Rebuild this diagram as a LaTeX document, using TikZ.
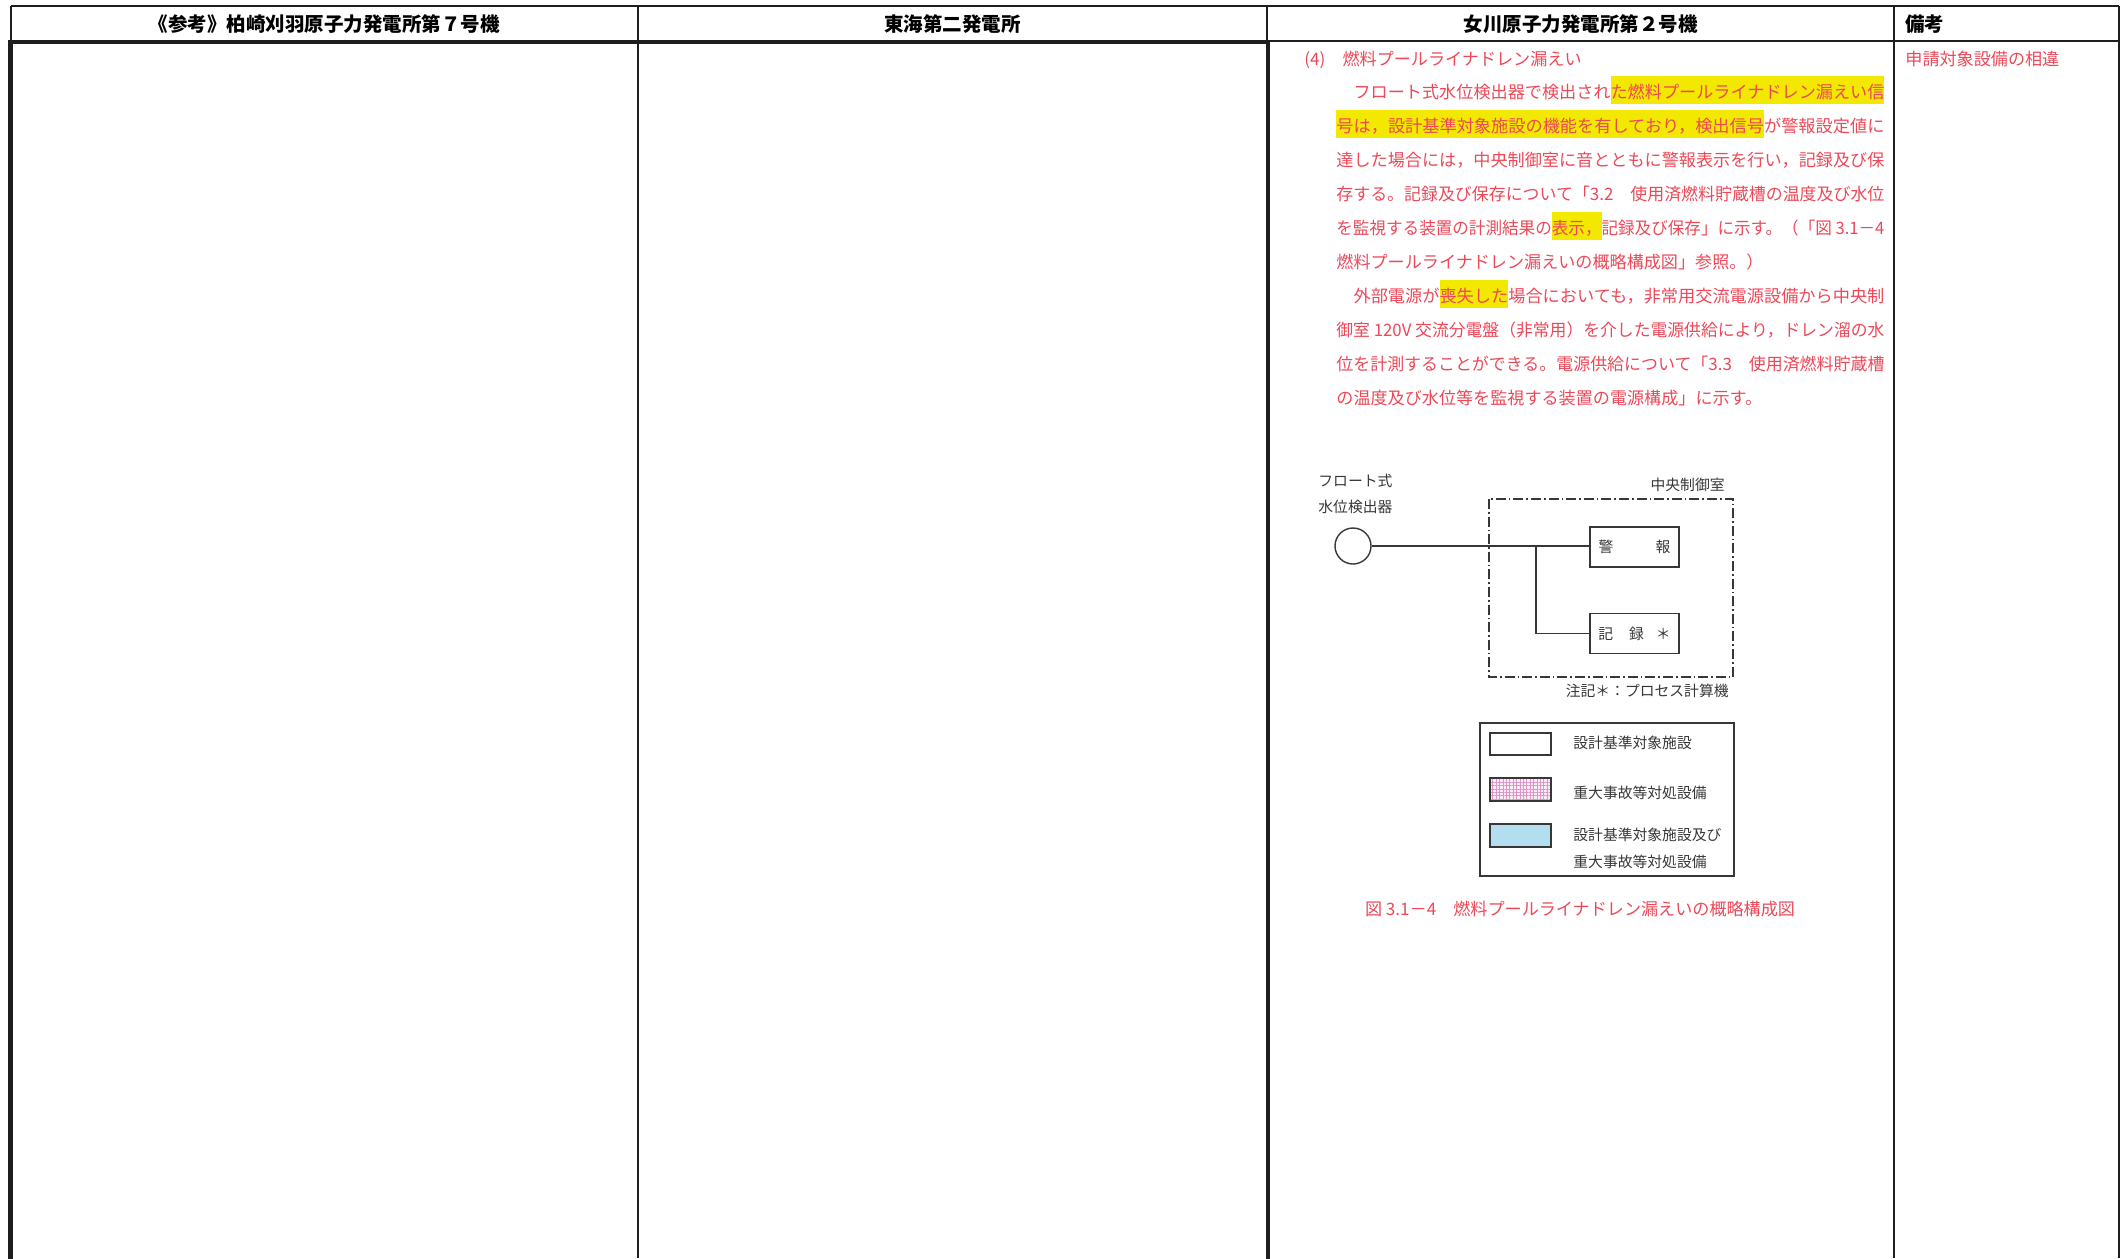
\documentclass[tikz,border=0pt]{standalone}
\usepackage{fontspec}
\usepackage{graphicx}
\newfontfamily\jpfont{Noto Sans CJK JP}
\usetikzlibrary{patterns.meta}
\definecolor{rulegray}{RGB}{30,30,30}
\definecolor{bodyred}{RGB}{236,72,88}
\definecolor{hlyellow}{RGB}{243,232,0}
\definecolor{figgray}{RGB}{55,55,55}
\definecolor{seablue}{RGB}{178,222,240}
\definecolor{gridpink}{RGB}{222,150,200}
\definecolor{pinkbg}{RGB}{250,235,246}
\newcommand\hlmark[1]{{\setlength\fboxsep{0pt}\colorbox{hlyellow}{\rule[-2.75pt]{0pt}{14pt}#1}}}
\newcommand\fullline[1]{\resizebox{274pt}{\height}{#1}}

\tikzset{
  tablerule/.style={line width=0.8pt, draw=rulegray},
  thickframe/.style={line width=2.25pt, draw=rulegray},
  hdr/.style={font={\jpfont\bfseries\fontsize{9.75pt}{11pt}\selectfont}, text=black, inner sep=0pt, anchor=base},
  bodytext/.style={font={\jpfont\fontsize{8.55pt}{10pt}\selectfont}, text=bodyred, inner sep=0pt, anchor=base west},
  figtext/.style={font={\jpfont\fontsize{7.4pt}{9pt}\selectfont}, text=figgray, inner sep=0pt, anchor=base west},
  sigbox/.style={draw=figgray, line width=0.7pt, minimum width=44.5pt, minimum height=20pt, inner sep=0pt,
    font={\jpfont\fontsize{7.4pt}{9pt}\selectfont}, text=figgray},
  wire/.style={draw=figgray, line width=0.6pt},
  room/.style={draw=figgray, line width=0.7pt, dash pattern=on 5pt off 1.5pt on 0.8pt off 1.5pt},
  swatch/.style={draw=figgray, line width=0.7pt},
}

\begin{document}
\begin{tikzpicture}[x=0.5pt, y=-0.5pt]
    \useasboundingbox (0,0) rectangle (2125,1258);

    \draw[tablerule] (10.7,6) -- (2119,6)
                     (10.7,41) -- (2119,41)
                     (10.7,6) -- (10.7,41)
                     (638,6) -- (638,1258)
                     (1267,6) -- (1267,41)
                     (1894,6) -- (1894,1258)
                     (2119,6) -- (2119,1258);
    \draw[thickframe] (10.5,1262) -- (10.5,42) -- (1268,42) -- (1268,1262);

    \node[hdr] (h1) at (324,31.4) {《参考》柏崎刈羽原子力発電所第７号機};
    \node[hdr] (h2) at (952.5,31.4) {東海第二発電所};
    \node[hdr] (h3) at (1580.5,31.4) {女川原子力発電所第２号機};
    \node[hdr, anchor=base west] (h4) at (1905,31.4) {備考};

    \node[bodytext] (l0) at (1304,65) {(4)　燃料プールライナドレン漏えい};
    \node[bodytext] (l1) at (1336,98.9) {\fullline{　フロート式水位検出器で検出され\hlmark{た燃料プールライナドレン漏えい信}}};
    \node[bodytext] (l2) at (1336,132.8) {\fullline{\hlmark{号は，設計基準対象施設の機能を有しており，検出信号}が警報設定値に}};
    \node[bodytext] (l3) at (1336,166.7) {\fullline{達した場合には，中央制御室に音とともに警報表示を行い，記録及び保}};
    \node[bodytext] (l4) at (1336,200.6) {\fullline{存する。記録及び保存について「3.2　使用済燃料貯蔵槽の温度及び水位}};
    \node[bodytext] (l5) at (1336,234.5) {\fullline{を監視する装置の計測結果の\hlmark{表示，}記録及び保存」に示す。（「図 3.1－4}};
    \node[bodytext] (l6) at (1336,268.4) {燃料プールライナドレン漏えいの概略構成図」参照。）};
    \node[bodytext] (l7) at (1336,302.3) {\fullline{　外部電源が\hlmark{喪失した}場合においても，非常用交流電源設備から中央制}};
    \node[bodytext] (l8) at (1336,336.2) {\fullline{御室 120V 交流分電盤（非常用）を介した電源供給により，ドレン溜の水}};
    \node[bodytext] (l9) at (1336,370.1) {\fullline{位を計測することができる。電源供給について「3.3　使用済燃料貯蔵槽}};
    \node[bodytext] (l10) at (1336,404) {の温度及び水位等を監視する装置の電源構成」に示す。};

    \node[bodytext] (note) at (1905,65) {申請対象設備の相違};

    \node[figtext] (detlbl1) at (1318,486.6) {フロート式};
    \node[figtext] (detlbl2) at (1318,512.6) {水位検出器};
    \node[figtext, anchor=base east] (roomlbl) at (1725,490) {中央制御室};
    \draw[room] (1489,499) rectangle (1733,677);

    \node[circle, draw=figgray, line width=0.7pt, minimum size=18pt, inner sep=0pt] (det) at (1353,546) {};
    \node[sigbox] (alarm) at (1634.5,547) {警\hspace{21pt}報};
    \node[sigbox] (rec) at (1634.5,633.5) {記\hspace{8pt}録\hspace{6pt}＊};
    \coordinate (jn) at (1536,546);
    \draw[wire] (det) -- (det -| alarm.west);
    \draw[wire] (jn) |- (rec.west);

    \node[figtext, anchor=base east] (memo) at (1729,696.6) {注記＊：プロセス計算機};

    \draw[swatch] (1480,723) rectangle (1734,876);
    \draw[swatch, fill=white] (1490,733) rectangle (1551,755);
    \draw[swatch, preaction={fill=pinkbg}, pattern={Hatch[distance=1.7pt, angle=0, line width=0.25pt]},
          pattern color=gridpink] (1490,778) rectangle (1551,801);
    \draw[swatch, fill=seablue] (1490,824) rectangle (1551,847);
    \node[figtext] (leg1) at (1573,748.6) {設計基準対象施設};
    \node[figtext] (leg2) at (1573,798.6) {重大事故等対処設備};
    \node[figtext] (leg3) at (1573,840.6) {設計基準対象施設及び};
    \node[figtext] (leg4) at (1573,867.6) {重大事故等対処設備};

    \node[bodytext, anchor=base] (cap) at (1580,915.5) {図 3.1－4　燃料プールライナドレン漏えいの概略構成図};
\end{tikzpicture}
\end{document}
